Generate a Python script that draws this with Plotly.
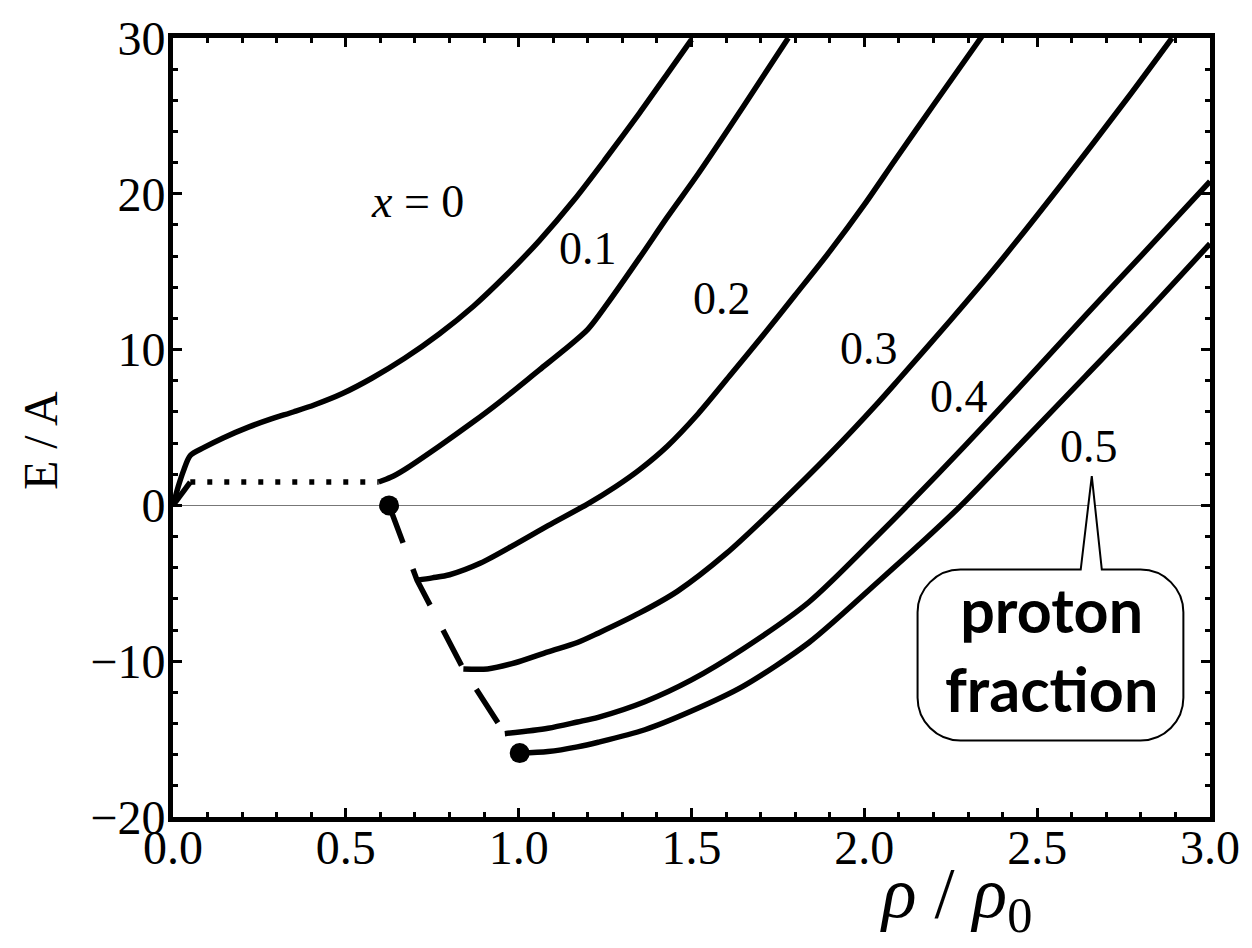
import plotly.graph_objects as go

# ---------------- data ----------------
rho_x0 = [0, 0.015, 0.03, 0.05, 0.09, 0.145, 0.22, 0.28, 0.35, 0.41, 0.49, 0.575,
          0.67, 0.77, 0.87, 0.965, 1.06, 1.16, 1.25, 1.35, 1.43, 1.50]
E_x0 = [0, 1.2, 2.2, 3.2, 3.72, 4.33, 5.04, 5.52, 6.01, 6.46, 7.18, 8.16,
        9.44, 11.0, 12.8, 14.8, 17.0, 19.6, 22.2, 25.2, 27.7, 29.9]

rho_x1_low = [0, 0.05]
E_x1_low = [0, 1.5]
rho_x1_coex = [0.05, 0.595]
E_x1_coex = [1.5, 1.5]
rho_x1 = [0.595, 0.63, 0.67, 0.77, 0.865, 0.94, 1.06, 1.13, 1.20, 1.255, 1.35, 1.43,
          1.52, 1.65, 1.78]
E_x1 = [1.5, 1.8, 2.3, 3.8, 5.3, 6.55, 8.7, 9.95, 11.3, 12.9, 15.9, 18.5,
        21.3, 25.6, 30.0]

rho_x2 = [0.706, 0.75, 0.80, 0.89, 0.99, 1.085, 1.20, 1.28, 1.35, 1.43, 1.52, 1.61,
          1.71, 1.80, 1.90, 2.0, 2.09, 2.20, 2.34]
E_x2 = [-4.8, -4.65, -4.45, -3.7, -2.5, -1.3, 0.1, 1.2, 2.3, 3.8, 5.9, 8.3,
        11.0, 13.5, 16.3, 19.3, 22.2, 25.7, 30.1]

rho_x3 = [0.84, 0.91, 0.99, 1.085, 1.17, 1.23, 1.35, 1.46, 1.60, 1.75, 1.90, 2.04,
          2.10, 2.25, 2.38, 2.57, 2.76, 2.89]
E_x3 = [-10.5, -10.5, -10.1, -9.4, -8.8, -8.2, -6.9, -5.5, -3.1, 0.0, 3.3, 6.6,
        8.1, 11.9, 15.3, 20.6, 26.1, 30.0]

rho_x4 = [0.96, 1.085, 1.17, 1.23, 1.365, 1.50, 1.65, 1.84, 2.04, 2.125, 2.29, 2.45,
          2.64, 2.80, 3.0]
E_x4 = [-14.65, -14.3, -13.9, -13.6, -12.6, -11.2, -9.2, -6.2, -1.9, 0.0, 3.8, 7.6,
        12.2, 16.0, 20.8]

rho_x5 = [1.003, 1.085, 1.17, 1.23, 1.365, 1.50, 1.65, 1.84, 2.04, 2.16, 2.28, 2.48,
          2.64, 2.80, 3.0]
E_x5 = [-15.9, -15.8, -15.5, -15.2, -14.4, -13.2, -11.6, -8.8, -4.9, -2.5, 0.0, 4.6,
        8.3, 12.0, 16.8]

rho_boundary = [0.625, 0.706, 0.84, 0.96, 1.003]
E_boundary = [0.0, -4.8, -10.5, -14.65, -15.9]

rho_dots = [0.625, 1.003]
E_dots = [0.0, -15.9]

curve_labels = ["<i>x</i> = 0", "0.1", "0.2", "0.3", "0.4", "0.5"]
label_rho = [0.708, 1.20, 1.587, 2.013, 2.275, 2.65]
label_E = [19.5, 16.5, 13.3, 10.1, 7.0, 3.8]

# ---------------- figure ----------------
fig = go.Figure()
LW = 5.5


def add_line(x, y, dash="solid", width=LW, shape="spline"):
    line = dict(color="black", width=width, dash=dash, shape=shape)
    if shape == "spline":
        line["smoothing"] = 0.8
    fig.add_trace(go.Scatter(x=x, y=y, mode="lines", line=line,
                             showlegend=False, hoverinfo="skip"))


add_line(rho_x0, E_x0)
add_line(rho_x1_low, E_x1_low, shape="linear")
add_line(rho_x1_coex, E_x1_coex, dash="5px,12px", shape="linear")
add_line(rho_x1, E_x1)
add_line(rho_x2, E_x2)
add_line(rho_x3, E_x3)
add_line(rho_x4, E_x4)
add_line(rho_x5, E_x5)
add_line(rho_boundary, E_boundary, dash="40px,28px", shape="linear")

fig.add_trace(go.Scatter(
    x=rho_dots, y=E_dots, mode="markers",
    marker=dict(color="black", size=20),
    showlegend=False, hoverinfo="skip"))

serif = "Liberation Serif"

for txt, xr, yr in zip(curve_labels, label_rho, label_E):
    fig.add_annotation(x=xr, y=yr, xref="x", yref="y", text=txt, showarrow=False,
                       xanchor="center", yanchor="middle",
                       font=dict(family=serif, size=46, color="black"))

# callout box "proton fraction"
x0b, x1b, y0b, y1b = 2.154, 2.923, -15.09, -4.12
rx, ry = 0.124, 2.74
k = 0.5523
pl, pr, tipx, tipy = 2.626, 2.687, 2.658, 1.88
path = (
    f"M {x0b+rx},{y1b} L {pl},{y1b} L {tipx},{tipy} L {pr},{y1b} L {x1b-rx},{y1b} "
    f"C {x1b-rx+k*rx},{y1b} {x1b},{y1b-ry+k*ry} {x1b},{y1b-ry} "
    f"L {x1b},{y0b+ry} "
    f"C {x1b},{y0b+ry-k*ry} {x1b-rx+k*rx},{y0b} {x1b-rx},{y0b} "
    f"L {x0b+rx},{y0b} "
    f"C {x0b+rx-k*rx},{y0b} {x0b},{y0b+ry-k*ry} {x0b},{y0b+ry} "
    f"L {x0b},{y1b-ry} "
    f"C {x0b},{y1b-ry+k*ry} {x0b+rx-k*rx},{y1b} {x0b+rx},{y1b} Z"
)
fig.add_shape(type="path", path=path, xref="x", yref="y",
              line=dict(color="black", width=2), fillcolor="white", layer="above")
fig.add_annotation(x=2.542, y=-9.23, xref="x", yref="y",
                   text="proton<br>fraction", showarrow=False,
                   xanchor="center", yanchor="middle",
                   font=dict(family="Lato", size=61, color="black", weight="bold"))

# axis titles
fig.add_annotation(x=-0.1276, y=0.4834, xref="paper", yref="paper", text="E / A",
                   textangle=-90, showarrow=False, xanchor="center", yanchor="middle",
                   font=dict(family=serif, size=48, color="black"))
fig.add_annotation(x=0.755, y=-0.104, xref="paper", yref="paper",
                   text="<i>ρ</i> / <i>ρ</i><sub>0</sub>", showarrow=False,
                   xanchor="center", yanchor="middle",
                   font=dict(family=serif, size=72, color="black"))

axis_common = dict(
    showgrid=False, zeroline=False, showline=True, linewidth=5, linecolor="black",
    mirror="allticks", ticks="inside", ticklen=9, tickwidth=3, tickcolor="black",
    tickfont=dict(family=serif, size=48, color="black"),
)

fig.update_xaxes(range=[0, 3], tickmode="linear", tick0=0, dtick=0.5, tickformat=".1f",
                 ticklabelstandoff=-16,
                 minor=dict(tickmode="linear", tick0=0, dtick=0.1, ticks="inside",
                            ticklen=5, tickwidth=2.5, tickcolor="black", showgrid=False),
                 **axis_common)
fig.update_yaxes(range=[-20, 30], tickmode="linear", tick0=-20, dtick=10,
                 ticklabelstandoff=-7,
                 minor=dict(tickmode="linear", tick0=0, dtick=2, ticks="inside",
                            ticklen=5, tickwidth=2.5, tickcolor="black", showgrid=False),
                 **axis_common)
fig.update_yaxes(zeroline=True, zerolinecolor="#777777", zerolinewidth=1)

fig.update_layout(
    width=1252, height=948,
    margin=dict(l=173, r=37, t=33, b=131, pad=0),
    paper_bgcolor="white", plot_bgcolor="white",
    showlegend=False,
)

fig.write_html("out.html")
